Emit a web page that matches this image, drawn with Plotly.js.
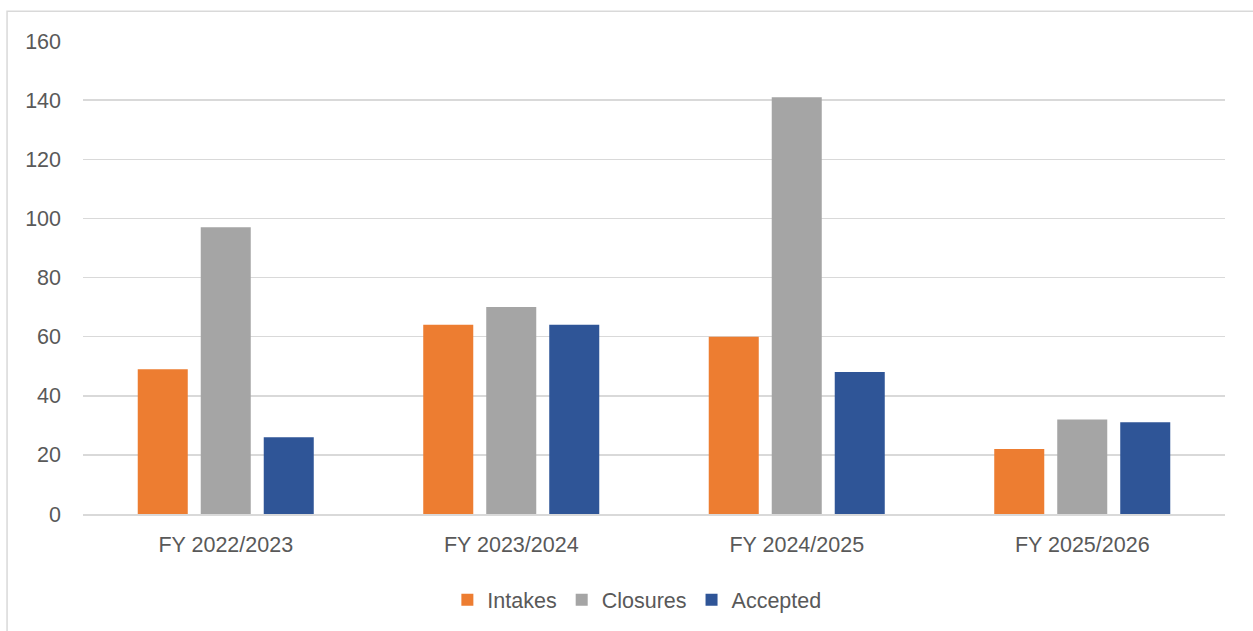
<!DOCTYPE html>
<html>
<head>
<meta charset="utf-8">
<script src="https://cdn.plot.ly/plotly-3.0.1.min.js"></script>
<style>html,body{margin:0;padding:0;background:#fff;}#chart{width:1253px;height:631px;}</style>
</head>
<body>
<div id="chart"></div>
<script>
const categories = ["FY 2022/2023", "FY 2023/2024", "FY 2024/2025", "FY 2025/2026"];
const intakes = [49, 64, 60, 22];
const closures = [97, 70, 141, 32];
const accepted = [26, 64, 48, 31];
const yTicks = [0, 20, 40, 60, 80, 100, 120, 140, 160];

const font = {family: "Liberation Sans, Arial, sans-serif", size: 21.5, color: "#595959"};

const traces = [
  {type: "bar", name: "Intakes", x: categories, y: intakes, marker: {color: "#ED7D31"}},
  {type: "bar", name: "Closures", x: categories, y: closures, marker: {color: "#A5A5A5"}},
  {type: "bar", name: "Accepted", x: categories, y: accepted, marker: {color: "#2F5597"}}
];

const layout = {
  width: 1253, height: 631,
  margin: {l: 83, r: 28, t: 41, b: 116},
  paper_bgcolor: "#fff", plot_bgcolor: "#fff",
  font: font,
  barmode: "group",
  bargap: 0.338,
  bargroupgap: 0.206,
  showlegend: true,
  hovermode: false,
  legend: {orientation: "h", x: 0.485, xanchor: "center", y: -0.179, yanchor: "middle", font: font, traceorder: "normal"},
  xaxis: {type: "category", showgrid: false, showline: true, linecolor: "#D9D9D9", linewidth: 1.5, ticks: "", tickfont: font, ticklabelstandoff: 11, fixedrange: true},
  yaxis: {range: [0, 160], tickvals: yTicks, ticktext: yTicks.map(String), showgrid: true, gridcolor: "#D9D9D9", gridwidth: 1.5, zeroline: false, showline: false, ticks: "", tickfont: font, ticklabelstandoff: 21, fixedrange: true},
  shapes: [{type: "rect", xref: "paper", yref: "paper", x0: -0.0665, x1: 1.2, y0: -0.4, y1: 1.063, line: {color: "#D9D9D9", width: 1.5}, fillcolor: "rgba(0,0,0,0)", layer: "below"}]
};

Plotly.newPlot("chart", traces, layout, {displayModeBar: false, staticPlot: true});
</script>
</body>
</html>
